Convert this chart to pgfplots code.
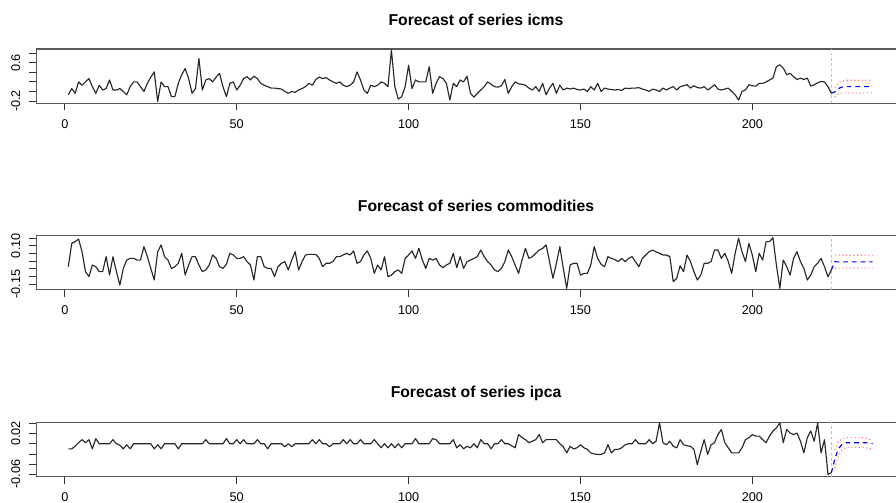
\documentclass[border=0pt]{standalone}
\usepackage{pgfplots}
\pgfplotsset{compat=1.18}
\usepackage{pgfplotstable}
\usepackage{fontspec}
\setmainfont{Liberation Sans}

\pgfplotstableread{
x icms comm ipca
1 -0.07 -0.036 -0.010
2 0.06 0.115 -0.010
3 -0.04 0.126 -0.005
4 0.20 0.143 0.002
5 0.13 0.060 0.008
6 0.20 -0.068 0.002
7 0.27 -0.100 0.008
8 0.10 -0.025 -0.010
9 -0.04 -0.036 0.010
10 0.13 -0.068 0.000
11 0.03 -0.068 0.000
12 0.06 0.029 0.000
13 0.24 -0.090 0.000
14 0.03 0.029 0.008
15 0.03 -0.068 0.000
16 0.06 -0.155 -0.003
17 0.00 -0.047 -0.010
18 -0.07 0.007 -0.002
19 0.10 0.018 -0.010
20 0.20 0.018 0.000
21 0.20 0.007 0.000
22 0.10 0.007 0.000
23 0.00 0.094 0.000
24 0.17 0.029 0.000
25 0.30 -0.047 0.000
26 0.41 -0.122 -0.010
27 -0.21 0.061 -0.002
28 0.20 0.105 -0.010
29 0.10 0.029 0.000
30 0.10 0.007 0.000
31 -0.11 -0.047 0.000
32 -0.11 -0.036 0.000
33 0.17 -0.014 -0.010
34 0.35 0.051 0.000
35 0.48 -0.090 0.000
36 0.27 -0.025 0.000
37 -0.04 0.029 0.000
38 0.06 0.029 0.000
39 0.69 -0.025 0.000
40 0.03 -0.068 0.000
41 0.24 -0.057 0.008
42 0.27 -0.025 0.000
43 0.20 0.040 0.000
44 0.30 0.018 0.000
45 0.38 -0.036 0.000
46 0.10 -0.047 0.000
47 -0.11 -0.020 0.010
48 0.17 0.051 0.000
49 0.20 0.040 0.000
50 0.03 0.018 0.008
51 0.13 0.018 0.000
52 0.27 0.029 0.008
53 0.31 -0.003 0.000
54 0.24 -0.025 0.000
55 0.32 -0.122 0.000
56 0.27 0.029 0.008
57 0.17 0.029 0.000
58 0.13 -0.036 0.000
59 0.10 -0.047 -0.010
60 0.07 -0.047 0.000
61 0.07 -0.100 0.000
62 0.06 -0.036 0.000
63 0.05 -0.014 0.000
64 0.00 -0.003 -0.006
65 -0.04 -0.057 0.000
66 0.00 0.007 -0.006
67 -0.02 0.061 0.000
68 0.03 -0.057 0.000
69 0.06 -0.003 0.000
70 0.10 0.040 0.000
71 0.17 0.044 0.000
72 0.13 0.044 0.008
73 0.25 0.044 0.000
74 0.30 0.018 0.008
75 0.27 -0.036 0.000
76 0.29 -0.014 0.000
77 0.24 -0.014 -0.006
78 0.20 -0.003 0.000
79 0.17 0.029 0.000
80 0.20 0.029 0.000
81 0.13 0.040 0.008
82 0.10 0.051 0.000
83 0.13 0.040 0.008
84 0.20 0.066 0.000
85 0.41 -0.014 0.000
86 0.24 -0.003 0.008
87 0.03 0.040 0.000
88 -0.04 0.066 0.000
89 0.13 0.018 0.000
90 0.10 -0.079 0.008
91 0.13 -0.025 0.000
92 0.20 -0.057 -0.008
93 0.17 0.029 0.000
94 0.10 -0.101 -0.008
95 0.87 -0.090 0.000
96 0.10 -0.068 -0.008
97 -0.16 -0.057 0.000
98 -0.11 -0.079 -0.008
99 0.10 0.018 0.000
100 0.55 0.040 0.000
101 0.06 0.066 0.000
102 0.24 0.018 0.010
103 0.20 0.083 0.000
104 0.20 0.007 0.000
105 0.20 -0.047 0.000
106 0.52 0.018 0.000
107 -0.04 0.007 0.010
108 0.17 0.018 0.008
109 0.31 -0.025 0.000
110 0.27 -0.042 0.000
111 0.17 -0.025 0.000
112 -0.18 -0.014 0.000
113 0.17 0.051 0.008
114 0.10 -0.042 -0.008
115 0.24 0.029 -0.002
116 0.20 -0.047 -0.010
117 0.32 -0.003 -0.005
118 -0.04 0.007 -0.008
119 -0.12 0.018 0.000
120 -0.04 0.029 -0.008
121 0.03 0.072 0.008
122 0.10 0.029 0.000
123 0.20 -0.003 0.000
124 0.15 -0.025 -0.010
125 0.10 -0.057 0.000
126 0.09 -0.068 0.000
127 0.12 -0.047 0.008
128 0.25 -0.003 0.000
129 -0.04 0.072 0.000
130 0.10 0.029 -0.004
131 0.20 -0.025 -0.008
132 0.16 -0.079 0.018
133 0.15 0.007 0.012
134 0.13 0.083 0.008
135 0.07 0.018 0.002
136 0.03 0.029 0.005
137 0.10 0.051 0.008
138 0.00 0.072 0.018
139 0.17 0.083 0.002
140 -0.07 0.105 0.008
141 0.07 -0.003 0.008
142 0.17 -0.111 0.008
143 -0.04 -0.014 0.008
144 0.13 0.094 0.000
145 0.03 -0.047 -0.006
146 0.07 -0.176 -0.018
147 0.05 -0.025 -0.005
148 0.07 -0.014 -0.010
149 0.04 -0.014 -0.008
150 0.03 -0.090 -0.002
151 0.05 -0.079 -0.008
152 0.00 -0.079 -0.011
153 0.10 -0.025 -0.018
154 0.03 0.094 -0.020
155 0.17 0.018 -0.021
156 0.00 -0.020 -0.021
157 0.07 -0.036 -0.018
158 0.05 0.029 -0.002
159 0.04 0.018 -0.018
160 0.03 0.010 -0.011
161 0.04 -0.003 -0.011
162 0.02 0.018 -0.008
163 0.07 -0.003 -0.002
164 0.06 0.018 0.000
165 0.07 0.029 0.000
166 0.07 -0.003 0.008
167 0.08 -0.036 0.000
168 0.05 0.018 0.000
169 0.03 0.040 0.000
170 0.00 0.061 0.008
171 0.05 0.072 0.000
172 0.03 0.060 0.005
173 0.00 0.051 0.041
174 0.07 0.040 0.002
175 0.03 0.040 -0.002
176 0.07 0.029 0.005
177 0.10 -0.133 -0.005
178 0.03 -0.111 -0.008
179 0.10 -0.030 0.008
180 0.12 -0.068 -0.002
181 0.14 0.040 -0.004
182 0.07 -0.003 -0.005
183 0.12 -0.068 -0.011
184 0.08 -0.122 -0.041
185 0.07 -0.090 -0.015
186 0.10 -0.014 0.008
187 0.03 -0.014 -0.021
188 0.08 -0.003 -0.002
189 0.14 0.072 0.002
190 0.05 0.072 0.018
191 0.03 0.018 0.028
192 0.05 0.051 0.002
193 0.07 -0.003 -0.008
194 0.00 -0.079 -0.018
195 -0.07 0.051 -0.018
196 -0.18 0.148 -0.018
197 0.00 0.061 -0.008
198 0.03 -0.003 0.008
199 0.14 0.115 0.012
200 0.12 0.040 0.018
201 0.11 -0.068 0.015
202 0.17 0.051 0.015
203 0.17 0.007 0.008
204 0.20 0.126 0.002
205 0.24 0.126 0.015
206 0.28 0.152 0.025
207 0.52 -0.025 0.031
208 0.56 -0.176 0.041
209 0.49 0.007 0.002
210 0.35 -0.036 0.028
211 0.38 -0.090 0.021
212 0.31 0.018 0.018
213 0.25 0.061 0.021
214 0.28 -0.003 0.005
215 0.25 -0.047 -0.018
216 0.28 -0.122 0.012
217 0.11 -0.090 0.025
218 0.14 -0.036 0.005
219 0.18 -0.014 0.041
220 0.21 0.018 -0.018
221 0.20 -0.036 0.008
222 0.10 -0.101 -0.060
223 -0.04 -0.057 -0.057
}\obs

\pgfplotstableread{
x f1 l1 u1 f2 l2 u2 f3 l3 u3
223 -0.04 nan nan -0.057 nan nan -0.057 nan nan
224 -0.01 -0.12 0.08 -0.004 -0.048 0.040 -0.030 -0.048 -0.012
225 0.06 -0.05 0.18 -0.005 -0.045 0.038 -0.010 -0.024 0.004
226 0.09 -0.035 0.22 -0.005 -0.044 0.038 -0.002 -0.013 0.009
227 0.10 -0.03 0.235 -0.005 -0.044 0.038 0.002 -0.008 0.011
228 0.10 -0.03 0.235 -0.005 -0.044 0.038 0.002 -0.007 0.012
229 0.10 -0.03 0.235 -0.005 -0.044 0.038 0.002 -0.007 0.012
230 0.10 -0.03 0.235 -0.005 -0.044 0.038 0.002 -0.007 0.012
231 0.10 -0.03 0.235 -0.005 -0.044 0.038 0.002 -0.007 0.012
232 0.10 -0.03 0.235 -0.005 -0.044 0.038 0.002 -0.007 0.012
233 0.10 -0.03 0.235 -0.005 -0.044 0.038 0.002 -0.008 0.011
234 0.10 -0.03 0.235 -0.005 -0.044 0.038 0.001 -0.009 0.009
235 0.10 -0.03 0.230 -0.005 -0.044 0.038 0.000 -0.011 0.006
}\fc

\pgfplotsset{
  panel/.style={
    scale only axis, width=651.5pt, height=40.7pt,
    xmin=-8.36, xmax=244.36,
    xtick={0,50,100,150,200},
    xticklabels={0,50,100,150,200},
    scaled y ticks=false, scaled x ticks=false,
    tick pos=left,
    tick align=outside,
    major tick length=5.25pt,
    tick style={black!80, line width=0.6pt},
    axis line style={black!65, line width=0.9pt},
    ticklabel style={font=\fontsize{9.5}{11}\selectfont, inner sep=0pt},
    xticklabel style={anchor=center, yshift=-10.2pt},
    yticklabel style={xshift=-10pt, rotate=90, anchor=center},
    title style={at={(0.5064,1)}, anchor=center, yshift=16pt, font=\bfseries\fontsize{11.8}{14}\selectfont},
    unbounded coords=discard,
    clip=false,
  },
  obsline/.style={black!85, line width=0.85pt, line join=round},
  fcline/.style={blue, line width=0.85pt, dash pattern=on 3.5pt off 3pt},
  ciline/.style={red!55, line width=0.8pt, dash pattern=on 0.8pt off 2pt},
  vline/.style={black!25, line width=0.6pt, dash pattern=on 2pt off 2pt},
}

\begin{document}
\begin{tikzpicture}
\useasboundingbox (0,0) rectangle (672pt,377.25pt);

\begin{axis}[panel, at={(27.1pt,299.8pt)}, anchor=south west,
  ymin=-0.248, ymax=0.89,
  ytick={-0.2,0,0.2,0.4,0.6,0.8}, yticklabels={-0.2,,,,0.6,},
  title={Forecast of series icms}]
  \addplot[vline] coordinates {(223,-0.248) (223,0.89)};
  \addplot[obsline] table[x=x, y=icms] {\obs};
  \addplot[ciline] table[x=x, y=u1] {\fc};
  \addplot[ciline] table[x=x, y=l1] {\fc};
  \addplot[fcline] table[x=x, y=f1] {\fc};
\end{axis}

\begin{axis}[panel, at={(27.1pt,160.05pt)}, anchor=south west,
  ymin=-0.184, ymax=0.167,
  ytick={-0.15,-0.10,-0.05,0,0.05,0.10,0.15}, yticklabels={-0.15,,,,,0.10,},
  title={Forecast of series commodities}]
  \addplot[vline] coordinates {(223,-0.184) (223,0.167)};
  \addplot[obsline] table[x=x, y=comm] {\obs};
  \addplot[ciline] table[x=x, y=u2] {\fc};
  \addplot[ciline] table[x=x, y=l2] {\fc};
  \addplot[fcline] table[x=x, y=f2] {\fc};
\end{axis}

\begin{axis}[panel, at={(27.1pt,19.8pt)}, anchor=south west,
  ymin=-0.0645, ymax=0.042,
  ytick={-0.06,-0.04,-0.02,0,0.02,0.04}, yticklabels={-0.06,,,,0.02,},
  title={Forecast of series ipca}]
  \addplot[vline] coordinates {(223,-0.0645) (223,0.042)};
  \addplot[obsline] table[x=x, y=ipca] {\obs};
  \addplot[ciline] table[x=x, y=u3] {\fc};
  \addplot[ciline] table[x=x, y=l3] {\fc};
  \addplot[fcline] table[x=x, y=f3] {\fc};
\end{axis}
\end{tikzpicture}
\end{document}
